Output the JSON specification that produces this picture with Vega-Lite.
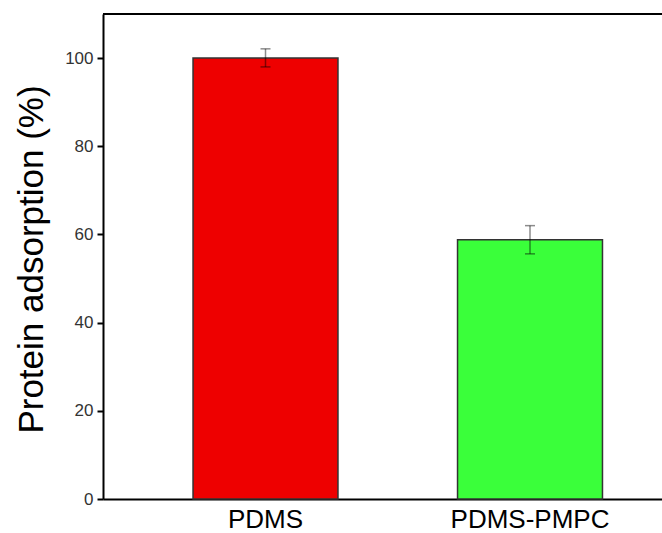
{
  "$schema": "https://vega.github.io/schema/vega-lite/v6.json",
  "autosize": {"type": "none"},
  "width": 559,
  "height": 485,
  "padding": {"left": 103, "top": 14, "right": 0, "bottom": 34},
  "background": "white",
  "config": {"view": {"stroke": null}, "font": "Liberation Sans"},
  "data": {"values": [
    {"sample": "PDMS", "value": 100, "low": 98.0, "high": 102.1},
    {"sample": "PDMS-PMPC", "value": 58.8, "low": 55.6, "high": 62.0}
  ]},
  "layer": [
    {
      "mark": {"type": "bar", "stroke": "#333333", "strokeWidth": 1.5},
      "encoding": {
        "x": {
          "field": "sample", "type": "nominal",
          "scale": {"paddingInner": 0.452, "paddingOuter": 0.2827, "align": 0.602},
          "axis": {
            "title": null, "labelAngle": 0, "labelFontSize": 26, "labelColor": "#000000",
            "labelFont": "Liberation Sans", "ticks": false, "labelPadding": 7,
            "domainColor": "#000000", "domainWidth": 2
          }
        },
        "y": {
          "field": "value", "type": "quantitative",
          "scale": {"domain": [0, 110], "nice": false},
          "axis": {
            "title": "Protein adsorption (%)", "titleFontSize": 35, "titleFontWeight": "normal",
            "titleColor": "#000000", "titleFont": "Liberation Sans",
            "titleAngle": -90, "titleX": -61, "titleY": 245, "titleAlign": "center", "titleBaseline": "alphabetic",
            "values": [0, 20, 40, 60, 80, 100], "grid": false,
            "labelFontSize": 17, "labelColor": "#333333", "labelFont": "Liberation Sans",
            "ticks": true, "tickSize": 6, "tickColor": "#000000", "tickWidth": 2,
            "labelPadding": 4,
            "domainColor": "#000000", "domainWidth": 2
          }
        },
        "color": {
          "field": "sample", "type": "nominal", "legend": null,
          "scale": {"domain": ["PDMS", "PDMS-PMPC"], "range": ["#EE0000", "#3AFF3A"]}
        }
      }
    },
    {
      "mark": {"type": "errorbar", "ticks": {"size": 10}, "color": "#000000", "opacity": 0.45, "thickness": 1.5},
      "encoding": {
        "x": {"field": "sample", "type": "nominal"},
        "y": {"field": "low", "type": "quantitative", "title": "Protein adsorption (%)"},
        "y2": {"field": "high"}
      }
    },
    {
      "mark": {"type": "rule", "color": "#000000", "strokeWidth": 2},
      "encoding": {"y": {"datum": 110}}
    }
  ]
}
